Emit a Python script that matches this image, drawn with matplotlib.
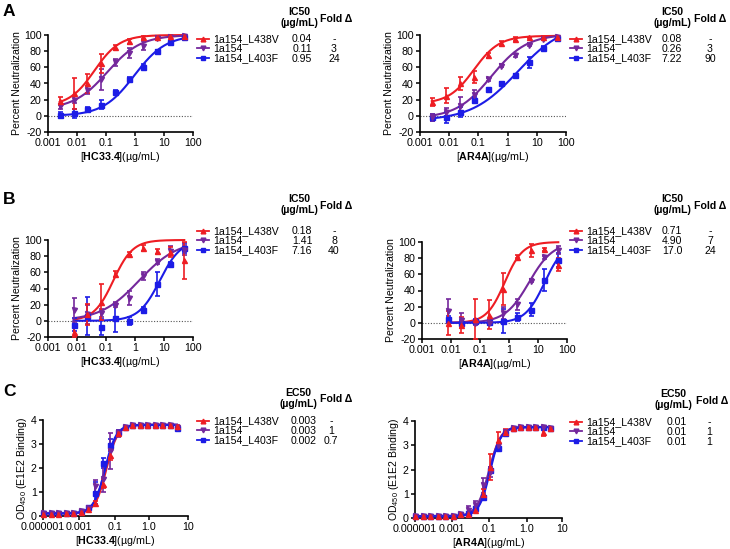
import numpy as np
import matplotlib
matplotlib.use('Agg')
import matplotlib.pyplot as plt
from matplotlib.lines import Line2D
from matplotlib.ticker import NullLocator

plt.rcParams['font.family'] = ['Liberation Sans', 'DejaVu Sans']
plt.rcParams['mathtext.fontset'] = 'custom'
plt.rcParams['mathtext.rm'] = 'Liberation Sans'
plt.rcParams['mathtext.bf'] = 'Liberation Sans:bold'
plt.rcParams['mathtext.it'] = 'Liberation Sans:italic'

W, H = 730, 549

strains = ['1a154_L438V', '1a154', '1a154_L403F']
colors = ['#ee1d23', '#74289c', '#1c1ce6']
markers = ['^', 'v', 's']

# antibody concentrations (ug/mL)
conc_AB = [0.00254, 0.00762, 0.0229, 0.0686, 0.206, 0.617, 1.85, 5.56, 16.7, 50]
conc_B = [0.00762, 0.0229, 0.0686, 0.206, 0.617, 1.85, 5.56, 16.7, 50]
conc_C = [1.907e-5, 3.815e-5, 7.629e-5, 1.526e-4, 3.052e-4, 6.104e-4, 1.221e-3,
          2.441e-3, 4.883e-3, 9.766e-3, 0.01953, 0.03906, 0.07813, 0.1563,
          0.3125, 0.625, 1.25, 2.5, 5.0]

# ---- A: neutralization, HC33.4 / AR4A  (rows: L438V, wt, L403F)
a1_mean = [[18, 28, 40, 65, 85, 92, 97, 98, 99, 99],
           [12, 20, 32, 45, 66, 78, 87, 96, 98, 99],
           [1, 3, 8, 14, 30, 45, 61, 80, 91, 97]]
a1_err = [[5, 19, 12, 12, 3, 3, 2, 1, 1, 1],
          [3, 4, 5, 13, 4, 6, 5, 2, 1, 1],
          [4, 6, 3, 5, 2, 3, 3, 2, 2, 1]]
a1_fit = [(12, 100, 0.04, 1.0), (8, 100, 0.11, 0.75), (0, 100, 0.95, 0.8)]
a1_ic50 = ['0.04', '0.11', '0.95']
a1_fold = ['-', '3', '24']

a2_mean = [[17, 25, 40, 48, 75, 90, 95, 97, 98, 98],
           [-2, 5, 12, 26, 45, 62, 75, 88, 95, 98],
           [-2, -2, 5, 20, 33, 40, 50, 66, 84, 96]]
a2_err = [[5, 9, 8, 8, 3, 3, 2, 1, 1, 1],
          [4, 5, 11, 6, 2, 2, 2, 2, 1, 1],
          [4, 7, 6, 3, 2, 2, 2, 7, 2, 1]]
a2_fit = [(15, 99, 0.07, 1.0), (-3, 101, 0.28, 0.72), (-6, 115, 2.2, 0.55)]
a2_ic50 = ['0.08', '0.26', '7.22']
a2_fold = ['-', '3', '90']

# ---- B
b1_mean = [[-14, 8, 23, 58, 83, 90, 86, 85, 75],
           [13, 8, 10, 20, 28, 55, 73, 87, 88],
           [-5, 6, -8, 3, 0, 14, 46, 70, 90]]
b1_err = [[6, 13, 22, 4, 2, 4, 3, 6, 23],
          [15, 12, 5, 3, 9, 5, 3, 5, 6],
          [8, 23, 10, 17, 5, 3, 15, 3, 6]]
b1_fit = [(0, 100, 0.18, 1.3), (0, 100, 1.4, 0.65), (0, 100, 7.2, 1.2)]
b1_ic50 = ['0.18', '1.41', '7.16']
b1_fold = ['-', '8', '40']

b2_mean = [[0, -3, 5, 10, 42, 82, 90, 91, 72],
           [15, 3, 0, 0, 12, 23, 52, 81, 90],
           [5, 0, 2, 1, 2, 7, 16, 53, 78]]
b2_err = [[15, 10, 25, 18, 20, 2, 8, 2, 8],
          [15, 9, 3, 3, 7, 7, 2, 2, 5],
          [3, 3, 3, 3, 15, 5, 8, 13, 9]]
b2_fit = [(0, 100, 0.71, 1.4), (0, 100, 4.9, 1.05), (0, 100, 17, 1.3)]
b2_ic50 = ['0.71', '4.90', '17.0']
b2_fold = ['-', '7', '24']

# ---- C: E1E2 binding OD450
c1_mean = [[0.10, 0.10, 0.10, 0.11, 0.11, 0.18, 0.30, 0.55, 1.35, 2.55, 3.45, 3.70, 3.78, 3.80, 3.80, 3.80, 3.80, 3.79, 3.76],
           [0.12, 0.12, 0.12, 0.12, 0.13, 0.20, 0.35, 1.25, 1.55, 2.70, 3.45, 3.70, 3.78, 3.80, 3.80, 3.80, 3.80, 3.79, 3.72],
           [0.12, 0.12, 0.12, 0.12, 0.13, 0.20, 0.38, 0.95, 2.20, 2.95, 3.50, 3.70, 3.78, 3.80, 3.80, 3.80, 3.80, 3.78, 3.65]]
c1_err = [[0.02, 0.02, 0.02, 0.02, 0.02, 0.03, 0.05, 0.08, 0.20, 0.20, 0.10, 0.05, 0.03, 0.02, 0.02, 0.02, 0.02, 0.02, 0.04],
          [0.02, 0.02, 0.02, 0.02, 0.02, 0.03, 0.05, 0.25, 0.55, 0.75, 0.15, 0.05, 0.03, 0.02, 0.02, 0.02, 0.02, 0.02, 0.04],
          [0.02, 0.02, 0.02, 0.02, 0.02, 0.03, 0.05, 0.45, 0.20, 0.25, 0.10, 0.05, 0.03, 0.02, 0.02, 0.02, 0.02, 0.02, 0.05]]
c1_fit = [(0.10, 3.80, 0.0068, 1.9), (0.11, 3.80, 0.0062, 1.8), (0.11, 3.80, 0.0060, 1.9)]
c1_ec50 = ['0.003', '0.003', '0.002']
c1_fold = ['-', '1', '0.7']

c2_mean = [[0.08, 0.08, 0.08, 0.08, 0.08, 0.09, 0.15, 0.15, 0.35, 1.00, 2.10, 3.20, 3.55, 3.70, 3.75, 3.75, 3.75, 3.55, 3.72],
           [0.08, 0.08, 0.08, 0.08, 0.08, 0.09, 0.15, 0.35, 0.55, 1.35, 1.90, 3.00, 3.55, 3.70, 3.75, 3.75, 3.75, 3.75, 3.72],
           [0.08, 0.08, 0.08, 0.08, 0.08, 0.09, 0.15, 0.20, 0.40, 0.85, 2.00, 2.90, 3.50, 3.70, 3.75, 3.75, 3.75, 3.75, 3.72]]
c2_err = [[0.02, 0.02, 0.02, 0.02, 0.02, 0.02, 0.03, 0.05, 0.05, 0.20, 0.55, 0.35, 0.10, 0.05, 0.03, 0.03, 0.03, 0.15, 0.05],
          [0.02, 0.02, 0.02, 0.02, 0.02, 0.02, 0.03, 0.15, 0.15, 0.30, 0.20, 0.10, 0.05, 0.03, 0.03, 0.03, 0.03, 0.03, 0.05],
          [0.02, 0.02, 0.02, 0.02, 0.02, 0.02, 0.03, 0.05, 0.05, 0.10, 0.10, 0.10, 0.05, 0.03, 0.03, 0.03, 0.03, 0.03, 0.05]]
c2_fit = [(0.08, 3.75, 0.018, 2.0), (0.08, 3.75, 0.017, 1.8), (0.08, 3.75, 0.019, 2.0)]
c2_ec50 = ['0.01', '0.01', '0.01']
c2_fold = ['-', '1', '1']

fig = plt.figure(figsize=(W / 100, H / 100), dpi=100)


def px_axes(l, t, r, b):
    return fig.add_axes([l / W, 1 - b / H, (r - l) / W, (b - t) / H])


def panel(box, conc, means, errs, fits, ylim, yticks, xlim, xticks, xlabels,
          ylabel, xlabel, zero_line=True):
    ax = px_axes(*box)
    ax.set_xscale('log')
    xs = np.geomspace(conc[0], conc[-1], 300)
    for (bot, top, ec, hill), c in zip(fits, colors):
        ax.plot(xs, bot + (top - bot) / (1 + (ec / xs) ** hill), color=c, lw=1.5,
                zorder=3, clip_on=False)
    for i in [2, 1, 0]:
        ax.errorbar(conc, means[i], yerr=errs[i], fmt=markers[i], color=colors[i],
                    ms=3.6, elinewidth=1.2, capsize=1.8, capthick=1.2, zorder=4,
                    clip_on=False)
    if zero_line:
        ax.axhline(0, color='#555555', ls=(0, (1, 1.5)), lw=0.8, zorder=1)
    ax.set_xlim(*xlim)
    ax.set_ylim(*ylim)
    ax.set_yticks(yticks, labels=[str(t) for t in yticks])
    ax.set_xticks(xticks, labels=xlabels)
    ax.xaxis.set_minor_locator(NullLocator())
    for s in ['top', 'right']:
        ax.spines[s].set_visible(False)
    for s in ['left', 'bottom']:
        ax.spines[s].set_linewidth(1.2)
    ax.tick_params(labelsize=7.7, length=2.8, width=1.1, pad=1.8)
    ax.set_ylabel(ylabel, fontsize=7.6, labelpad=1.5)
    ax.set_xlabel(xlabel, fontsize=7.7, labelpad=1.0)
    return ax


def frac_ticks(lo, hi, fracs):
    return [lo * (hi / lo) ** f for f in fracs]


ab_ticks = [0.001, 0.01, 0.1, 1, 10, 100]
ab_labels = ['0.001', '0.01', '0.1', '1', '10', '100']
pn_ticks = [-20, 0, 20, 40, 60, 80, 100]
hc = r'[$\mathbf{HC33.4}$](µg/mL)'
ar = r'[$\mathbf{AR4A}$](µg/mL)'
pn = 'Percent Neutralization'
od = r'OD$_{450}$ (E1E2 Binding)'

panel((48, 35, 193, 132), conc_AB, a1_mean, a1_err, a1_fit, (-20, 100), pn_ticks,
      (0.001, 100), ab_ticks, ab_labels, pn, hc)
panel((420, 35, 566, 132), conc_AB, a2_mean, a2_err, a2_fit, (-20, 100), pn_ticks,
      (0.001, 100), ab_ticks, ab_labels, pn, ar)
panel((48, 240, 193, 337), conc_B, b1_mean, b1_err, b1_fit, (-20, 100), pn_ticks,
      (0.001, 100), ab_ticks, ab_labels, pn, hc)
panel((422, 242, 567, 339), conc_B, b2_mean, b2_err, b2_fit, (-20, 100), pn_ticks,
      (0.001, 100), ab_ticks, ab_labels, pn, ar)

c_labels = ['0.000001', '0.001', '0.1', '1.0', '10']
lo1, hi1 = conc_C[0] / 1.04, 14
panel((43, 420, 188, 516), conc_C, c1_mean, c1_err, c1_fit, (0, 4), [0, 1, 2, 3, 4],
      (lo1, hi1), frac_ticks(lo1, hi1, [0, 0.25, 0.5, 0.73, 1]), c_labels, od, hc,
      zero_line=False)
lo2, hi2 = conc_C[0] / 1.04, 15
panel((415, 421, 562, 518), conc_C, c2_mean, c2_err, c2_fit, (0, 4), [0, 1, 2, 3, 4],
      (lo2, hi2), frac_ticks(lo2, hi2, [0, 0.25, 0.5, 0.76, 1]), c_labels, od, ar,
      zero_line=False)

# panel letters
for letter, y in [('A', 12), ('B', 200), ('C', 391)]:
    fig.text(9 / W, 1 - y / H, letter, fontsize=12.5, fontweight='bold',
             ha='center', va='center')

handles = [Line2D([], [], color=c, marker=m, ms=3.4, lw=1.3)
           for c, m in zip(colors, markers)]

# legend + table blocks: (legend x, middle row y, header, header x, fold x, header y, value x, fold val x, values, folds)
tables = [
    (197, 49, 'IC50', 299, 336, 11, 302, 334, a1_ic50, a1_fold),
    (570, 49, 'IC50', 672, 710, 11, 672, 710, a2_ic50, a2_fold),
    (197, 241, 'IC50', 299, 336, 198, 302, 334, b1_ic50, b1_fold),
    (570, 241, 'IC50', 672, 710, 198, 672, 710, b2_ic50, b2_fold),
    (197, 431, 'EC50', 298, 336, 392, 304, 331, c1_ec50, c1_fold),
    (570, 432, 'EC50', 673, 712, 393, 677, 709, c2_ec50, c2_fold),
]

legends = []
for lx, ly, head, hx, fx, hy, vx, fvx, vals, folds in tables:
    leg = fig.legend(handles, strains, loc='center left',
                     bbox_to_anchor=(lx / W, 1 - ly / H), frameon=False,
                     fontsize=7.6, handlelength=1.1, handletextpad=0.45,
                     labelspacing=-0.04, borderpad=0, borderaxespad=0)
    legends.append(leg)
    fig.text(hx / W, 1 - (hy + 6.5) / H, head + '\n(µg/mL)', fontsize=7.6,
             fontweight='bold', ha='center', va='center', linespacing=1.05)
    fig.text(fx / W, 1 - (hy + 7.5) / H, 'Fold Δ', fontsize=7.6,
             fontweight='bold', ha='center', va='center')

fig.canvas.draw()
for leg, (lx, ly, head, hx, fx, hy, vx, fvx, vals, folds) in zip(legends, tables):
    for t, v, f in zip(leg.get_texts(), vals, folds):
        bb = t.get_window_extent()
        yc = (bb.y0 + bb.y1) / 2 / fig.bbox.height
        fig.text(vx / W, yc, v, fontsize=7.6, ha='center', va='center')
        fig.text(fvx / W, yc, f, fontsize=7.6, ha='center', va='center')

fig.savefig('out.png', dpi=100)
